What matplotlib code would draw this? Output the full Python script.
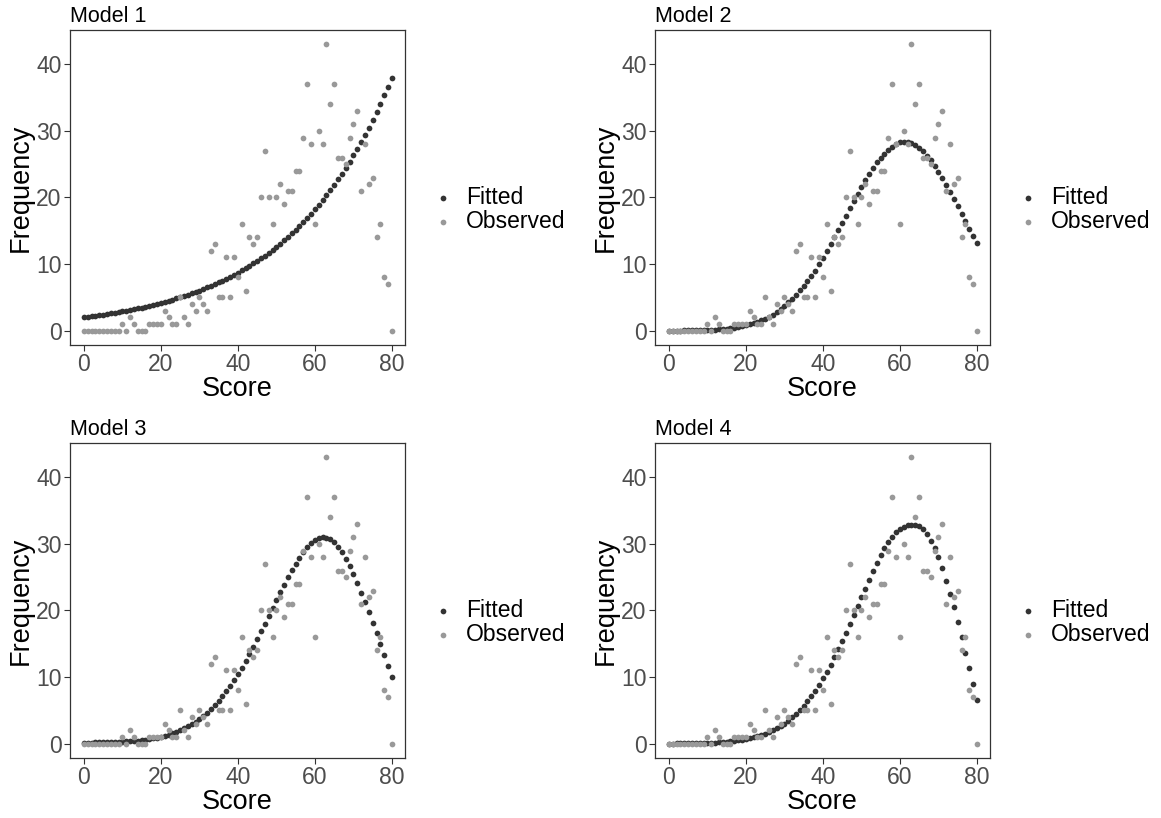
import matplotlib
matplotlib.use("Agg")
import matplotlib.pyplot as plt

plt.rcParams['font.family'] = ['Liberation Sans', 'DejaVu Sans']

# Score values and observed frequencies (shared by every model)
scores = list(range(0, 81))
observed = [0, 0, 0, 0, 0, 0, 0, 0, 0, 0,
            1, 0, 2, 1, 0, 0, 0, 1, 1, 1,
            1, 3, 2, 1, 1, 5, 2, 1, 4, 3,
            5, 4, 3, 12, 13, 5, 5, 11, 5, 11,
            8, 16, 6, 14, 13, 14, 20, 27, 20, 16,
            20, 22, 19, 21, 21, 24, 24, 29, 37, 28,
            16, 30, 28, 43, 34, 37, 26, 26, 25, 29,
            31, 33, 21, 28, 22, 23, 14, 16, 8, 7,
            0]

fitted_m1 = [2.00, 2.08, 2.15, 2.23, 2.32, 2.40, 2.49, 2.59, 2.69, 2.79,
             2.89, 3.00, 3.11, 3.23, 3.35, 3.47, 3.60, 3.74, 3.88, 4.03,
             4.18, 4.33, 4.50, 4.66, 4.84, 5.02, 5.21, 5.40, 5.61, 5.82,
             6.03, 6.26, 6.50, 6.74, 6.99, 7.25, 7.53, 7.81, 8.10, 8.40,
             8.72, 9.05, 9.38, 9.74, 10.10, 10.48, 10.87, 11.28, 11.70, 12.14,
             12.60, 13.07, 13.56, 14.07, 14.60, 15.14, 15.71, 16.30, 16.91, 17.55,
             18.20, 18.89, 19.60, 20.33, 21.09, 21.89, 22.71, 23.56, 24.44, 25.36,
             26.31, 27.30, 28.32, 29.38, 30.48, 31.62, 32.81, 34.04, 35.32, 36.64,
             38.01]

fitted_m2 = [0.01, 0.01, 0.02, 0.02, 0.03, 0.04, 0.05, 0.06, 0.07, 0.09,
             0.11, 0.14, 0.17, 0.21, 0.26, 0.31, 0.38, 0.46, 0.55, 0.66,
             0.79, 0.94, 1.11, 1.31, 1.54, 1.80, 2.09, 2.42, 2.79, 3.21,
             3.67, 4.25, 4.80, 5.40, 6.05, 6.70, 7.40, 8.20, 9.00, 9.95,
             10.96, 12.00, 13.00, 14.00, 15.05, 16.10, 17.20, 18.35, 19.45, 20.50,
             21.60, 22.60, 23.60, 24.45, 25.30, 26.00, 26.60, 27.15, 27.65, 28.00,
             28.30, 28.40, 28.34, 28.16, 27.86, 27.45, 26.93, 26.30, 25.58, 24.78,
             23.90, 22.95, 21.94, 20.89, 19.81, 18.72, 17.59, 16.47, 15.34, 14.24,
             13.16]

fitted_m3 = [0.15, 0.16, 0.17, 0.18, 0.19, 0.20, 0.22, 0.24, 0.26, 0.28,
             0.31, 0.34, 0.38, 0.42, 0.47, 0.53, 0.60, 0.68, 0.78, 0.89,
             1.02, 1.17, 1.34, 1.54, 1.76, 2.00, 2.28, 2.59, 2.93, 3.30,
             3.70, 4.15, 4.65, 5.20, 5.80, 6.45, 7.15, 7.90, 8.70, 9.55,
             10.45, 11.40, 12.40, 13.45, 14.55, 15.70, 16.85, 18.00, 19.20, 20.40,
             21.60, 22.75, 23.90, 25.00, 26.05, 27.05, 27.95, 28.80, 29.50, 30.10,
             30.55, 30.85, 31.00, 30.95, 30.70, 30.25, 29.60, 28.75, 27.80, 26.70,
             25.50, 24.15, 22.70, 21.25, 19.70, 18.15, 16.60, 15.00, 13.30, 11.65,
             10.00]

fitted_m4 = [0.02, 0.02, 0.03, 0.03, 0.04, 0.05, 0.06, 0.07, 0.08, 0.10,
             0.12, 0.14, 0.17, 0.20, 0.24, 0.29, 0.34, 0.41, 0.48, 0.57,
             0.67, 0.79, 0.93, 1.09, 1.27, 1.48, 1.72, 1.99, 2.30, 2.64,
             3.03, 3.46, 3.94, 4.47, 5.06, 5.70, 6.40, 7.16, 7.98, 8.86,
             9.80, 10.80, 11.86, 12.98, 14.15, 15.37, 16.63, 17.93, 19.25, 20.60,
             21.96, 23.30, 24.63, 25.92, 27.15, 28.30, 29.36, 30.30, 31.10, 31.75,
             32.25, 32.60, 32.80, 32.90, 32.90, 32.70, 32.20, 31.50, 30.50, 29.35,
             28.00, 26.35, 24.50, 22.55, 20.50, 18.30, 16.00, 13.65, 11.30, 8.90,
             6.50]

model_titles = ["Model 1", "Model 2", "Model 3", "Model 4"]
fitted_all = [fitted_m1, fitted_m2, fitted_m3, fitted_m4]

x_ticks = [0, 20, 40, 60, 80]
y_ticks = [0, 10, 20, 30, 40]

FITTED_COL = "#333333"
OBS_COL = "#999999"
TEXT_COL = "#4D4D4D"

W, H = 1161, 818
fig = plt.figure(figsize=(W / 100, H / 100), dpi=100)

# panel boxes in pixels: left, top, right, bottom
boxes = [(70, 30, 405, 345), (655, 30, 990, 345),
         (70, 443, 405, 758), (655, 443, 990, 758)]

for title, fit, (l, t, r, b) in zip(model_titles, fitted_all, boxes):
    ax = fig.add_axes([l / W, 1 - b / H, (r - l) / W, (b - t) / H])
    ax.scatter(scores, fit, s=17, color=FITTED_COL, linewidths=0,
               label="Fitted", zorder=2)
    ax.scatter(scores, observed, s=17, color=OBS_COL, linewidths=0,
               label="Observed", zorder=3)
    ax.set_xlim(-3.6, 83.4)
    ax.set_ylim(-2.15, 45.15)
    ax.set_xticks(x_ticks)
    ax.set_yticks(y_ticks)
    ax.tick_params(axis="both", labelsize=16.5, colors="#333333",
                   labelcolor=TEXT_COL, length=4, width=0.8, pad=2)
    for sp in ax.spines.values():
        sp.set_color("#333333")
        sp.set_linewidth(0.9)
    ax.set_xlabel("Score", fontsize=19.5, labelpad=0)
    ax.set_ylabel("Frequency", fontsize=19.5, labelpad=2)
    ax.set_title(title, loc="left", fontsize=15.5, pad=6)
    ax.legend(loc="center left", bbox_to_anchor=(1.06, 0.43),
              frameon=False, fontsize=16.5, handlelength=0.6,
              handletextpad=0.7, labelspacing=0.02, borderpad=0,
              markerscale=1.0)

fig.savefig("out.png", dpi=100)
